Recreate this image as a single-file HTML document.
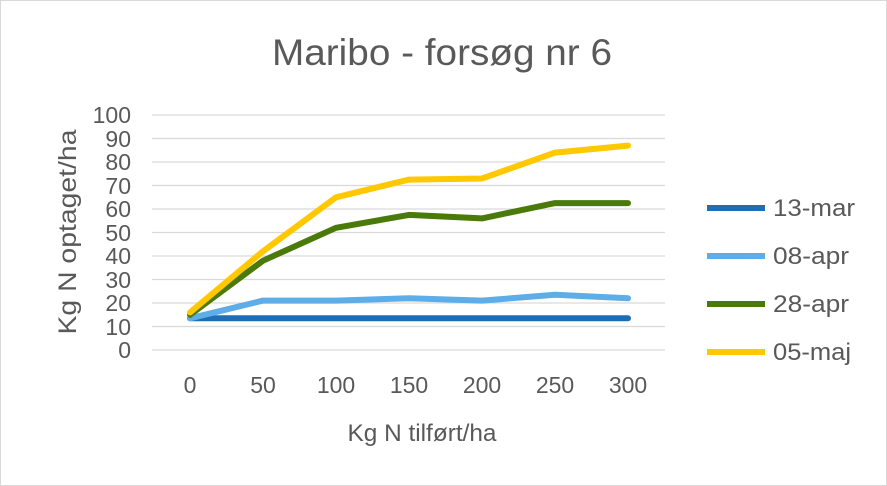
<!DOCTYPE html>
<html><head><meta charset="utf-8"><style>
html,body{margin:0;padding:0;background:#fff}
svg{display:block}
text{font-family:"Liberation Sans",sans-serif;fill:#595959}
</style></head><body>
<svg width="887" height="486" viewBox="0 0 887 486" xmlns="http://www.w3.org/2000/svg">
<rect x="0.5" y="0.5" width="886" height="485" fill="#fff" stroke="#d9d9d9"/>
<text x="442" y="65" font-size="37" text-anchor="middle" textLength="340" lengthAdjust="spacingAndGlyphs">Maribo - forsøg nr 6</text>
<g stroke="#d9d9d9" stroke-width="1.3">
<line x1="152" x2="665" y1="115" y2="115"/><line x1="152" x2="665" y1="138.5" y2="138.5"/>
<line x1="152" x2="665" y1="162" y2="162"/><line x1="152" x2="665" y1="185.5" y2="185.5"/>
<line x1="152" x2="665" y1="209" y2="209"/><line x1="152" x2="665" y1="232.5" y2="232.5"/>
<line x1="152" x2="665" y1="256" y2="256"/><line x1="152" x2="665" y1="279.5" y2="279.5"/>
<line x1="152" x2="665" y1="303" y2="303"/><line x1="152" x2="665" y1="326.5" y2="326.5"/>
<line x1="152" x2="665" y1="350" y2="350"/>
</g>
<g font-size="23" text-anchor="end">
<text x="131" y="123">100</text><text x="131" y="147">90</text><text x="131" y="170">80</text>
<text x="131" y="194">70</text><text x="131" y="217">60</text><text x="131" y="241">50</text>
<text x="131" y="264">40</text><text x="131" y="288">30</text><text x="131" y="311">20</text>
<text x="131" y="335">10</text><text x="131" y="358">0</text>
</g>
<g font-size="23" text-anchor="middle">
<text x="190" y="393">0</text><text x="263" y="393">50</text><text x="336" y="393">100</text>
<text x="409" y="393">150</text><text x="482" y="393">200</text><text x="555" y="393">250</text>
<text x="628" y="393">300</text>
</g>
<text x="422" y="441" font-size="24" text-anchor="middle" textLength="149" lengthAdjust="spacingAndGlyphs">Kg N tilført/ha</text>
<text transform="translate(76,232) rotate(-90)" font-size="25" text-anchor="middle" textLength="205" lengthAdjust="spacingAndGlyphs">Kg N optaget/ha</text>
<g fill="none" stroke-width="6" stroke-linejoin="round" stroke-linecap="round">
<polyline stroke="#1f6db5" points="190,318.3 263,318.3 336,318.3 409,318.3 482,318.3 555,318.3 628,318.3"/>
<polyline stroke="#5dade8" points="190,318.3 263,300.6 336,300.6 409,298.3 482,300.6 555,294.8 628,298.3"/>
<polyline stroke="#4a7a0a" points="190,314.8 263,260.7 336,227.8 409,214.9 482,218.4 555,203.1 628,203.1"/>
<polyline stroke="#ffc800" points="190,312.4 263,251.3 336,197.3 409,179.6 482,178.5 555,152.6 628,145.6"/>
</g>
<g stroke-width="6">
<line x1="707" x2="765" y1="208" y2="208" stroke="#1f6db5"/>
<line x1="707" x2="765" y1="256" y2="256" stroke="#5dade8"/>
<line x1="707" x2="765" y1="304" y2="304" stroke="#4a7a0a"/>
<line x1="707" x2="765" y1="352" y2="352" stroke="#ffc800"/>
</g>
<g font-size="24">
<text x="773" y="216" textLength="82" lengthAdjust="spacingAndGlyphs">13-mar</text>
<text x="773" y="264" textLength="76" lengthAdjust="spacingAndGlyphs">08-apr</text>
<text x="773" y="312" textLength="76" lengthAdjust="spacingAndGlyphs">28-apr</text>
<text x="773" y="360" textLength="78" lengthAdjust="spacingAndGlyphs">05-maj</text>
</g>
</svg>
</body></html>
